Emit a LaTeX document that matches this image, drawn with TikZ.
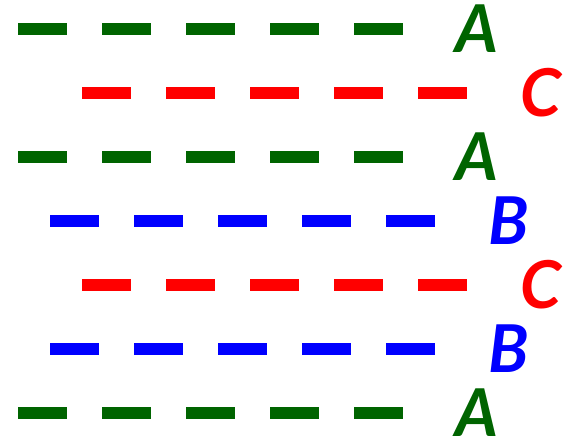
\documentclass[tikz,border=0pt]{standalone}
\usepackage{fontspec}
\setmainfont{Lato}
\definecolor{stackgreen}{RGB}{0,100,0}
\definecolor{stackred}{RGB}{255,0,0}
\definecolor{stackblue}{RGB}{0,0,255}
\begin{document}
\begin{tikzpicture}[x=1pt,y=-1pt,
  layer/.style={line width=12pt,dash pattern=on 48.5pt off 35.5pt},
  tag/.style={font=\fontsize{66}{66}\selectfont\bfseries\itshape,inner sep=0pt,anchor=center}]
  \useasboundingbox (0,0) rectangle (564,439);
  % row: y centre / start of first dash / colour / label / name
  \foreach \y/\xs/\col/\lab/\nm in {
      29/18/stackgreen/A/r1,
      93/82/stackred/C/r2,
      157/18/stackgreen/A/r3,
      221/50/stackblue/B/r4,
      285/82/stackred/C/r5,
      349/50/stackblue/B/r6,
      413/18/stackgreen/A/r7}{
    \draw[layer,\col] (\xs,\y) -- ++(384.5,0);
    \node[tag,text=\col] (\nm) at (\xs+459,\y) {\lab};
  }
\end{tikzpicture}
\end{document}
